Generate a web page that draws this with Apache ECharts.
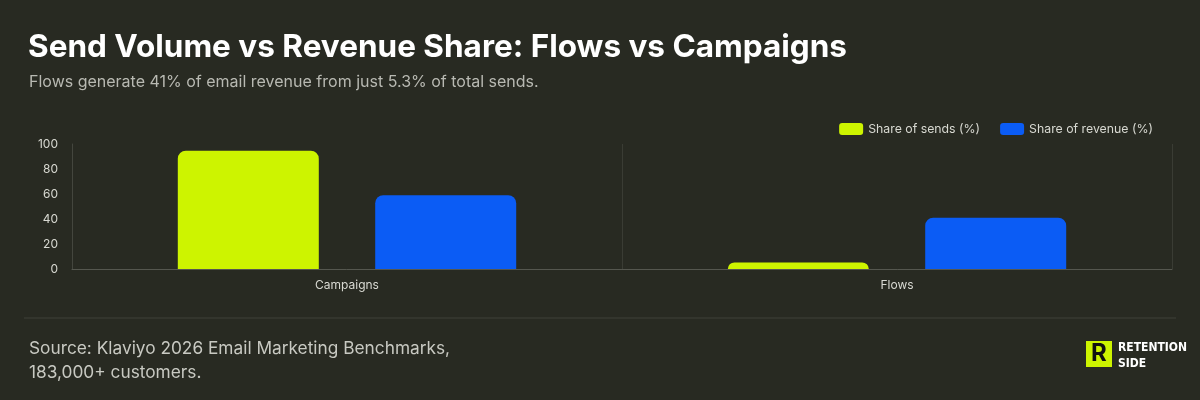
<!DOCTYPE html>
<html><head><meta charset="utf-8">
<script src="https://cdn.jsdelivr.net/npm/echarts@6/dist/echarts.min.js"></script>
<style>html,body{margin:0;background:#282a22}#c{width:1200px;height:400px}</style>
</head><body><div id="c"></div>
<script>
const categories = ['Campaigns', 'Flows'];
const sendsShare = [94.7, 5.3];
const revenueShare = [59, 41];
const yTicks = [0, 20, 40, 60, 80, 100];
const chart = echarts.init(document.getElementById('c'));
chart.setOption({
  backgroundColor: '#282a22',
  textStyle: { fontFamily: 'Inter' },
  title: [
    { text: 'Send Volume vs Revenue Share: Flows vs Campaigns', left: 23, top: 27,
      textStyle: { color: '#ffffff', fontSize: 31.5, fontWeight: 'bold', fontFamily: 'Inter' } },
    { text: 'Flows generate 41% of email revenue from just 5.3% of total sends.', left: 24, top: 69,
      textStyle: { color: '#b8b9b2', fontSize: 16, fontWeight: 'normal', fontFamily: 'Inter' } },
    { text: 'Source: Klaviyo 2026 Email Marketing Benchmarks,\n183,000+ customers.', left: 24, top: 332,
      textStyle: { color: '#c8c9c2', fontSize: 17.3, fontWeight: 'normal', lineHeight: 24, fontFamily: 'Inter' } }
  ],
  legend: { right: 42, top: 118, itemWidth: 24, itemHeight: 12, itemGap: 20,
    textStyle: { color: '#d8d9d2', fontSize: 12.3 }, icon: 'roundRect' },
  grid: { left: 72, right: 28, top: 144, bottom: 131 },
  xAxis: { type: 'category', data: categories,
    axisLine: { lineStyle: { color: '#55574f' } }, axisTick: { show: false },
    axisLabel: { color: '#d8d9d2', fontSize: 12, margin: 10 },
    splitLine: { show: true, lineStyle: { color: '#3a3c34' } } },
  yAxis: { type: 'value', min: 0, max: 100, interval: 20,
    axisLine: { show: true, lineStyle: { color: '#44463e' } },
    axisLabel: { color: '#d8d9d2', fontSize: 12, margin: 14, formatter: v => yTicks.includes(v) ? v : '' },
    splitLine: { show: false } },
  series: [
    { name: 'Share of sends (%)', type: 'bar', data: sendsShare, barWidth: 141, barGap: '40%',
      itemStyle: { color: '#cdf400', borderRadius: [8, 8, 0, 0] } },
    { name: 'Share of revenue (%)', type: 'bar', data: revenueShare, barWidth: 141,
      itemStyle: { color: '#0b5cf5', borderRadius: [8, 8, 0, 0] } }
  ],
  graphic: [
    { type: 'line', shape: { x1: 24, y1: 318, x2: 1176, y2: 318 }, style: { stroke: '#3f4139', lineWidth: 1 } },
    { type: 'rect', shape: { x: 1086, y: 341, width: 26, height: 26 }, style: { fill: '#cdf400' } },
    { type: 'text', style: { x: 1099, y: 354, text: 'R', fill: '#111', font: 'bold 24px Inter', align: 'center', verticalAlign: 'middle' } },
    { type: 'text', style: { x: 1118, y: 340, text: 'RETENTION\nSIDE', fill: '#ffffff', font: 'bold 12px "DejaVu Sans Condensed"', lineHeight: 16 } }
  ]
});
</script></body></html>
